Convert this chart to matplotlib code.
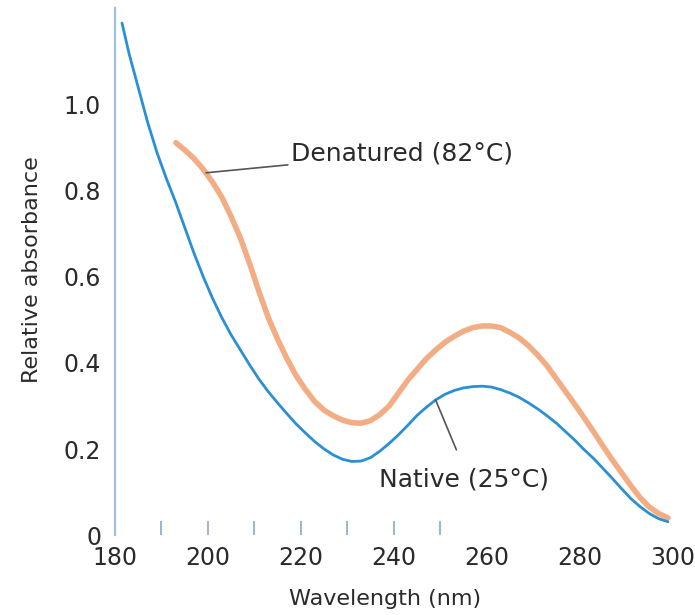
import matplotlib
matplotlib.use('Agg')
import matplotlib.pyplot as plt

# Absorbance spectra
native_wl = [181.5, 183, 185, 187, 189, 191, 193, 195, 197, 199, 201, 203, 205, 207,
             209, 211, 213, 215, 217, 219, 221, 223, 225, 227, 229, 231, 233, 235,
             237, 239, 241, 243, 245, 247, 249, 251, 253, 255, 257, 259, 261, 263,
             265, 267, 269, 271, 273, 275, 277, 279, 281, 283, 285, 287, 289, 291,
             293, 295, 297, 299]
native_abs = [1.19, 1.12, 1.04, 0.96, 0.89, 0.83, 0.775, 0.715, 0.655, 0.60, 0.55,
              0.505, 0.465, 0.43, 0.395, 0.362, 0.333, 0.307, 0.282, 0.258, 0.237,
              0.217, 0.20, 0.186, 0.176, 0.171, 0.172, 0.18, 0.195, 0.213, 0.233,
              0.255, 0.278, 0.297, 0.314, 0.327, 0.336, 0.342, 0.345, 0.346, 0.344,
              0.338, 0.33, 0.32, 0.307, 0.293, 0.277, 0.26, 0.24, 0.22, 0.198, 0.178,
              0.155, 0.132, 0.108, 0.085, 0.066, 0.05, 0.038, 0.031]

denat_wl = [193.1, 195, 197, 199, 201, 203, 205, 207, 209, 211, 213, 215, 217, 219,
            221, 223, 225, 227, 229, 231, 233, 235, 237, 239, 241, 243, 245, 247,
            249, 251, 253, 255, 257, 259, 261, 263, 265, 267, 269, 271, 273, 275,
            277, 279, 281, 283, 285, 287, 289, 291, 293, 295, 297, 299]
denat_abs = [0.912, 0.895, 0.875, 0.85, 0.82, 0.785, 0.74, 0.69, 0.63, 0.565, 0.505,
             0.455, 0.41, 0.37, 0.338, 0.31, 0.29, 0.277, 0.267, 0.261, 0.26, 0.266,
             0.28, 0.30, 0.33, 0.36, 0.385, 0.41, 0.43, 0.448, 0.462, 0.474, 0.482,
             0.486, 0.486, 0.482, 0.471, 0.458, 0.44, 0.418, 0.393, 0.363, 0.333,
             0.303, 0.272, 0.24, 0.207, 0.175, 0.145, 0.115, 0.087, 0.065, 0.05, 0.04]

x_labels = [180, 200, 220, 240, 260, 280, 300]
x_small_ticks = [190, 200, 210, 220, 230, 240, 250]
y_ticks = [0, 0.2, 0.4, 0.6, 0.8, 1.0]
y_labels = ['0', '0.2', '0.4', '0.6', '0.8', '1.0']

plt.rcParams['font.family'] = ['DejaVu Sans']
text_col = '#2a2a2a'

fig = plt.figure(figsize=(6.95, 6.15), dpi=100)
ax = fig.add_axes([0.1655, 0.130, 0.827, 0.857])

ax.plot(denat_wl, denat_abs, color='#f2ad85', lw=4, solid_capstyle='round', zorder=2)
ax.plot(native_wl, native_abs, color='#2b8fd3', lw=2, solid_capstyle='round', zorder=3)

ax.set_xlim(180, 303.7)
ax.set_ylim(0, 1.225)

for side in ['top', 'right', 'bottom']:
    ax.spines[side].set_visible(False)
ax.spines['left'].set_color('#9fc3df')
ax.spines['left'].set_linewidth(1.6)

ax.set_xticks(x_labels)
ax.set_xticklabels([str(v) for v in x_labels])
ax.set_xticks(x_small_ticks, minor=True)
ax.xaxis.remove_overlapping_locs = False
ax.tick_params(axis='x', which='major', length=0, pad=8, labelsize=17, labelcolor=text_col)
ax.tick_params(axis='x', which='minor', direction='in', length=10, width=1.2,
               color='#86a9c6', pad=0)

ax.set_yticks(y_ticks)
ax.set_yticklabels(y_labels)
ax.tick_params(axis='y', length=0, pad=10, labelsize=17, labelcolor=text_col)

ax.set_xlabel('Wavelength (nm)', fontsize=16, color=text_col)
ax.xaxis.set_label_coords(0.47, -0.102)
ax.set_ylabel('Relative absorbance', fontsize=16, color=text_col)
ax.yaxis.set_label_coords(-0.127, 0.503)

ax.annotate('Denatured (82°C)', xy=(199.6, 0.842), xytext=(217.8, 0.886),
            fontsize=18, color=text_col, va='center', ha='left',
            arrowprops=dict(arrowstyle='-', color='#555555', lw=1.2,
                            shrinkA=0, shrinkB=0))
ax.annotate('Native (25°C)', xy=(249.0, 0.314), xytext=(236.8, 0.128),
            fontsize=18, color=text_col, va='center', ha='left',
            arrowprops=dict(arrowstyle='-', color='#555555', lw=1.2,
                            shrinkA=12, shrinkB=0, relpos=(0.5, 1.0)))

fig.savefig('out.png', dpi=100)
